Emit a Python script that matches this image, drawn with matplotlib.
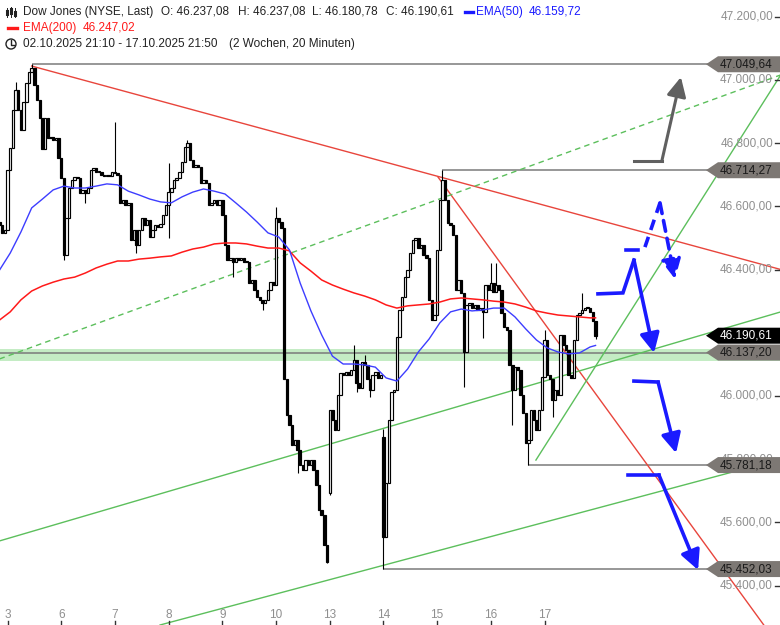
import matplotlib
matplotlib.use("Agg")
import matplotlib.pyplot as plt
from matplotlib.patches import Circle, Polygon
from matplotlib.transforms import blended_transform_factory

plt.rcParams["font.family"] = ["Liberation Sans", "DejaVu Sans"]

# 20-minute candles, 20 per session; index 0..2 are the last candles of 02.10.
first_open = 46550.0
closes = [
    46541, 46516, 46525,
    # 3
    46715, 46785, 46905, 46968, 46905, 46842, 46930, 46990, 47025, 47038,
    46984, 46937, 46880, 46781, 46880, 46816, 46820, 46810, 46816, 46753,
    # 6
    46690, 46446, 46563, 46658, 46683, 46693, 46690, 46642, 46652, 46642,
    46658, 46715, 46721, 46709, 46709, 46699, 46696, 46699, 46696, 46709,
    # 7
    46705, 46699, 46611, 46620, 46604, 46611, 46493, 46525, 46478, 46525,
    46563, 46541, 46557, 46503, 46525, 46541, 46535, 46544, 46573, 46604,
    # 8
    46645, 46658, 46683, 46690, 46709, 46740, 46788, 46800, 46747, 46724,
    46731, 46724, 46674, 46683, 46674, 46604, 46611, 46620, 46604, 46620,
    # 9
    46573, 46478, 46430, 46437, 46424, 46437, 46430, 46437, 46424, 46424,
    46357, 46367, 46335, 46313, 46304, 46294, 46304, 46335, 46360, 46351,
    # 10
    46563, 46550, 46531, 46053, 45940, 45908, 45845, 45860, 45829, 45781,
    45766, 45797, 45781, 45797, 45766, 45718, 45639, 45623, 45528, 45474,
    # 13
    45955, 45924, 45892, 46003, 46072, 46066, 46076, 46066, 46082, 46114,
    46041, 46025, 46107, 46098, 46053, 46019, 46066, 46076, 46057, 46066,
    # 14
    45553, 45724, 45924, 46012, 46019, 46186, 46272, 46313, 46376, 46398,
    46452, 46493, 46500, 46468, 46478, 46446, 46437, 46304, 46240, 46256,
    # 15
    46462, 46620, 46683, 46620, 46547, 46541, 46509, 46335, 46367, 46326,
    46139, 46288, 46294, 46278, 46288, 46272, 46278, 46266, 46351, 46335,
    # 16
    46357, 46329, 46351, 46335, 46262, 46218, 46209, 46098, 46019, 46091,
    46082, 46003, 45946, 45851, 45860, 45955, 45924, 45892, 45955, 46060,
    # 17
    46177, 46066, 46053, 45987, 46019, 46003, 46193, 46161, 46145, 46066,
    46057, 46177, 46256, 46262, 46272, 46278, 46278, 46266, 46237, 46190.61,
]
gap_opens = {123: 45693, 143: 45870}
wick_highs = {6: 46994, 12: 47049.64, 43: 46867, 63: 46737, 70: 46810, 103: 46598,
              132: 46161, 136: 46129, 143: 45895, 165: 46714.27, 183: 46421,
              185: 46421, 203: 46209, 217: 46326, 222: 46237.08}
wick_lows = {3: 46573, 24: 46430, 32: 46611, 51: 46452, 63: 46500, 87: 46376,
             98: 46272, 111: 45756, 122: 45471, 123: 45686, 133: 46012, 138: 45998,
             143: 45452.03, 173: 46028, 180: 46183, 191: 45908, 197: 45781.18,
             206: 45933, 222: 46180.78}

day_labels = ["3", "6", "7", "8", "9", "10", "13", "14", "15", "16", "17"]
day_start = [3, 23, 43, 63, 83, 103, 123, 143, 163, 183, 203]

ema_idx = list(range(0, 221, 4)) + [222]
ema50 = [46398, 46452, 46519, 46595, 46623, 46652, 46664, 46658, 46658, 46664,
         46671, 46668, 46648, 46636, 46623, 46614, 46611, 46630, 46645, 46655,
         46648, 46639, 46611, 46582, 46550, 46516, 46503, 46462, 46357, 46269,
         46193, 46126, 46101, 46101, 46098, 46091, 46057, 46047, 46085, 46139,
         46180, 46231, 46266, 46275, 46269, 46272, 46278, 46278, 46250, 46212,
         46177, 46152, 46139, 46133, 46136, 46155, 46159.72]
ema200 = [46240, 46266, 46304, 46332, 46348, 46360, 46370, 46376, 46389, 46405,
          46417, 46427, 46427, 46433, 46436, 46440, 46443, 46455, 46465, 46471,
          46481, 46484, 46484, 46481, 46474, 46468, 46468, 46459, 46421, 46395,
          46367, 46351, 46338, 46326, 46316, 46304, 46288, 46278, 46285, 46288,
          46291, 46297, 46307, 46310, 46307, 46304, 46300, 46297, 46291, 46281,
          46269, 46262, 46256, 46253, 46250, 46247, 46247.02]

# 46.200,00 sits completely under the last-price tag, so it is not listed
price_ticks = [45400, 45600, 45800, 46000, 46400, 46600, 46800, 47000, 47200]

# horizontal levels: price and the candle index where the line starts
level_prices = [47049.64, 46714.27, 46137.20, 45781.18, 45452.03]
level_starts = [12, 165, 0, 197, 143]
last_price = 46190.61
support_band = (46110, 46150)

# trend lines, two anchor points (index, price) each
red_lines = [((12, 47044), (291, 46400)), ((163.3, 46693), (291, 45201))]
green_lines = [((0, 45541), (291, 46266)), ((59.8, 45275), (291, 45800)),
               ((199.8, 45797), (291, 47016))]
green_dashed = [((0, 46117), (291, 47016))]

# scenario arrows (index, price), last point is the tip
gray_arrow = [(236.3, 46744), (246.7, 46744), (253.8, 47009)]
blue_dash_stub = [(233.3, 46462), (237.8, 46462)]
blue_dashed_arrow = [(240.4, 46471), (246.0, 46611), (251.6, 46370)]
blue_arrows = [
    [(222.9, 46323), (232.2, 46326), (236.3, 46430), (243.8, 46136)],
    [(236.3, 46047), (245.3, 46044), (252.0, 45819)],
    [(234.0, 45750), (245.6, 45750), (260.2, 45449)],
]

W, H = 780, 625
BLUE = "#1a1aff"
RED = "#ff1a1a"
FS = 8.5


def de(v):
    return f"{v:,.2f}".replace(",", "X").replace(".", ",").replace("X", ".")


def P(x, y):
    return x / 100, (H - y) / 100


fig = plt.figure(figsize=(W / 100, H / 100), dpi=100, facecolor="white")
ax = fig.add_axes([0, 0, 1, 1])
ax.set_xlim(0.2, 290.7)
ax.set_ylim(45275, 47253)
ax.axis("off")
px = fig.dpi_scale_trans
xa_yd = blended_transform_factory(ax.transAxes, ax.transData)
xd_ya = blended_transform_factory(ax.transData, ax.transAxes)

ax.axhspan(*support_band, color="#c4ecc4", lw=0, zorder=1)
for p, s in zip(level_prices, level_starts):
    ax.hlines(p, s, 291, color="#7a7a7a", lw=1.1, zorder=2)

for (x0, y0), (x1, y1) in red_lines:
    ax.plot([x0, x1], [y0, y1], color="#e8453c", lw=1.0, zorder=2)
for (x0, y0), (x1, y1) in green_lines:
    ax.plot([x0, x1], [y0, y1], color="#5cbf5c", lw=1.0, zorder=2)
for (x0, y0), (x1, y1) in green_dashed:
    ax.plot([x0, x1], [y0, y1], color="#5cbf5c", lw=1.0, ls=(0, (4, 3)), zorder=2)

ax.plot(ema_idx, ema200, color=RED, lw=1.1, zorder=5)
ax.plot(ema_idx, ema50, color="#3d3dff", lw=1.0, zorder=5)

# candles
opens = []
prev = first_open
for i, c in enumerate(closes):
    opens.append(gap_opens.get(i, prev))
    prev = c
idx = list(range(len(closes)))
highs = [wick_highs.get(i, max(o, c)) for i, o, c in zip(idx, opens, closes)]
lows = [wick_lows.get(i, min(o, c)) for i, o, c in zip(idx, opens, closes)]
ax.vlines(idx, lows, highs, color="black", lw=0.8, zorder=3)
bottoms = [min(o, c) for o, c in zip(opens, closes)]
heights = [max(abs(c - o), 2.5) for o, c in zip(opens, closes)]
colors = ["white" if c >= o else "black" for o, c in zip(opens, closes)]
ax.bar(idx, heights, bottom=bottoms, width=0.9, color=colors,
       edgecolor="black", lw=0.85, zorder=4)


# scenario arrows
def draw_arrow(pts, color, lw, ls="-"):
    xs, ys = zip(*pts[:-1])
    ax.plot(xs, ys, color=color, lw=lw, ls=ls, solid_joinstyle="miter", zorder=6)
    ax.annotate("", xy=pts[-1], xytext=pts[-2],
                arrowprops=dict(arrowstyle="-|>,head_length=0.9,head_width=0.45",
                                color=color, lw=lw, ls=ls, shrinkA=0, shrinkB=0,
                                mutation_scale=13), zorder=6)


draw_arrow(gray_arrow, "#606060", 2.2)
for arr in blue_arrows:
    draw_arrow(arr, BLUE, 2.6)
ax.plot(*zip(*blue_dash_stub), color=BLUE, lw=2.6, zorder=6)
draw_arrow(blue_dashed_arrow, BLUE, 2.6, ls=(0, (3, 2)))

# price scale
for t in price_ticks:
    ax.text(773 / W, t, de(t), transform=xa_yd, ha="right", va="center",
            fontsize=FS, color="#8f8f8f", zorder=7)
for t in price_ticks + [46200]:
    ax.plot([775 / W, 1], [t, t], transform=xa_yd, color="#333333", lw=1, zorder=7)

half = 8 * (47253 - 45275) / H
for p, fc, tc in [(v, "#7d7874", "#1a1a1a") for v in level_prices] + [(last_price, "black", "white")]:
    tag = Polygon([(706 / W, p), (718 / W, p - half), (1, p - half), (1, p + half),
                   (718 / W, p + half)], closed=True, transform=xa_yd,
                  facecolor=fc, edgecolor="none", zorder=8, clip_on=False)
    ax.add_patch(tag)
    ax.text(720 / W, p, de(p), transform=xa_yd, ha="left", va="center",
            fontsize=FS, color=tc, zorder=9)

# day axis
for d, i in zip(day_labels, day_start):
    ax.text(i, 1 - 615 / H, d, transform=xd_ya, ha="center", va="center",
            fontsize=FS, color="#8f8f8f")
    ax.plot([i, i], [0, 4 / H], transform=xd_ya, color="#333333", lw=1)

# header
hdr = [
    (23, 12, "Dow Jones (NYSE, Last)", "#222222"),
    (161, 12, "O: 46.237,08", "#222222"),
    (238, 12, "H: 46.237,08", "#222222"),
    (312, 12, "L: 46.180,78", "#222222"),
    (386, 12, "C: 46.190,61", "#222222"),
    (476, 12, "EMA(50)", BLUE),
    (529, 12, "46.159,72", BLUE),
    (23, 28, "EMA(200)", RED),
    (83, 28, "46.247,02", RED),
    (23, 44, "02.10.2025 21:10 - 17.10.2025 21:50", "#222222"),
    (229, 44, "(2 Wochen, 20 Minuten)", "#222222"),
]
for x, y, s, c in hdr:
    fig.text(*P(x, y), s, transform=px, ha="left", va="center", fontsize=FS, color=c)

for x0, x1, y, c in [(465, 473, 12, BLUE), (8, 17, 28, RED)]:
    fig.add_artist(plt.Line2D([x0 / 100, x1 / 100], [(H - y) / 100] * 2,
                              transform=px, color=c, lw=2.4))
# candle icon
for x, y0, y1, b0, b1 in [(7, 8, 17, 11, 14), (11, 7, 17, 9, 13), (15, 8, 17, 12, 15)]:
    fig.add_artist(plt.Line2D([x / 100] * 2, [(H - y0) / 100, (H - y1) / 100],
                              transform=px, color="#222222", lw=0.7))
    fig.add_artist(plt.Line2D([x / 100] * 2, [(H - b0) / 100, (H - b1) / 100],
                              transform=px, color="#222222", lw=2.2))
# clock icon
fig.add_artist(Circle(P(11, 44), 0.05, transform=px, fill=False, ec="#222222", lw=1.0))
fig.add_artist(plt.Line2D([0.11, 0.11, 0.135], [(H - 40) / 100, (H - 44.5) / 100, (H - 44.5) / 100],
                          transform=px, color="#222222", lw=1.0))

fig.savefig("out.png", dpi=100, facecolor="white")
